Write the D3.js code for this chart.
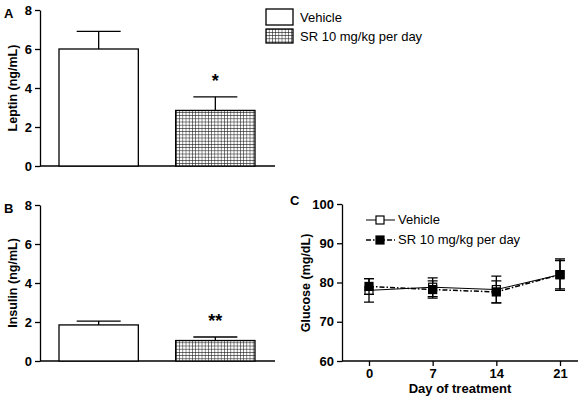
<!DOCTYPE html>
<html>
<head>
<script src="https://cdn.jsdelivr.net/npm/d3@7"></script>
<style>body{margin:0;background:#fff;font-family:Arial,"Liberation Sans",sans-serif;}</style>
</head>
<body>
<script>
var groups = ["Vehicle", "SR 10 mg/kg per day"];
var leptin = [6.0, 2.85], leptinErr = [0.9, 0.7];
var insulin = [1.85, 1.05], insulinErr = [0.2, 0.18];
var days = [0, 7, 14, 21];
var glucoseVeh = [78, 78.8, 78.2, 82], glucoseVehErr = [3, 2.4, 3.4, 4];
var glucoseSR = [79, 78.2, 77.6, 82], glucoseSRErr = [2, 2.2, 2.8, 3.6];

var svg = d3.select("body").append("svg").attr("width", 579).attr("height", 400);
var defs = svg.append("defs");
var pat = defs.append("pattern").attr("id", "grid").attr("patternUnits", "userSpaceOnUse")
    .attr("width", 3.2).attr("height", 3.2);
pat.append("rect").attr("width", 3.2).attr("height", 3.2).attr("fill", "#fff");
pat.append("path").attr("d", "M0,0H3.2M0,0V3.2").attr("stroke", "#222").attr("stroke-width", 1.1);

function fmtAxis(g) {
    g.selectAll("path,line").attr("stroke", "#000").attr("stroke-width", 1.3);
    g.selectAll("text").attr("font-size", 13).attr("font-weight", "bold").attr("fill", "#000");
}

function barPanel(top, vals, errs, star, label, ylab) {
    var y = d3.scaleLinear().domain([0, 8]).range([top + 156, top]);
    var x = d3.scaleBand().domain(groups).range([59, 255]).paddingInner(0.32).paddingOuter(0);
    svg.append("g").attr("transform", "translate(40,0)")
        .call(d3.axisLeft(y).ticks(4).tickSize(5).tickSizeOuter(0)).call(fmtAxis);
    svg.append("line").attr("x1", 40).attr("x2", 275).attr("y1", y(0)).attr("y2", y(0))
        .attr("stroke", "#000").attr("stroke-width", 1.3);
    groups.forEach(function (gr, i) {
        var cx = x(gr) + x.bandwidth() / 2;
        svg.append("line").attr("x1", cx).attr("x2", cx).attr("y1", y(vals[i])).attr("y2", y(vals[i] + errs[i])).attr("stroke", "#000").attr("stroke-width", 1.3);
        svg.append("line").attr("x1", cx - 22).attr("x2", cx + 22).attr("y1", y(vals[i] + errs[i])).attr("y2", y(vals[i] + errs[i])).attr("stroke", "#000").attr("stroke-width", 1.3);
        svg.append("rect").attr("x", x(gr)).attr("width", x.bandwidth())
            .attr("y", y(vals[i])).attr("height", y(0) - y(vals[i]))
            .attr("fill", i ? "url(#grid)" : "#fff").attr("stroke", "#000").attr("stroke-width", 1.3);
    });
    var sx = x(groups[1]) + x.bandwidth() / 2;
    svg.append("text").attr("x", sx).attr("y", y(vals[1] + errs[1]) - 10).attr("text-anchor", "middle")
        .attr("font-size", 18).attr("font-weight", "bold").text(star);
    svg.append("text").attr("x", 4).attr("y", top + 8).attr("font-size", 13).attr("font-weight", "bold").text(label);
    svg.append("text").attr("transform", "translate(17," + (top + 78) + ") rotate(-90)")
        .attr("text-anchor", "middle").attr("font-size", 12.5).attr("font-weight", "bold").text(ylab);
}
barPanel(10, leptin, leptinErr, "*", "A", "Leptin (ng/mL)");
barPanel(205, insulin, insulinErr, "**", "B", "Insulin (ng/mL)");

// legend for bars
groups.forEach(function (gr, i) {
    svg.append("rect").attr("x", 266).attr("y", 9 + i * 20).attr("width", 27).attr("height", i ? 14 : 16)
        .attr("fill", i ? "url(#grid)" : "#fff").attr("stroke", "#000").attr("stroke-width", 1.3);
    svg.append("text").attr("x", 300).attr("y", 22 + i * 19).attr("font-size", 13).text(gr);
});

// panel C
var xc = d3.scalePoint().domain(days).range([369, 560]);
var yc = d3.scaleLinear().domain([60, 100]).range([361, 204]);
svg.append("g").attr("transform", "translate(342,0)")
    .call(d3.axisLeft(yc).ticks(4).tickSize(5).tickSizeOuter(0)).call(fmtAxis);
svg.append("g").attr("transform", "translate(0,361)")
    .call(d3.axisBottom(xc).tickSize(5).tickSizeOuter(0)).call(fmtAxis)
    .select(".domain").attr("d", "M342,0H578");
svg.append("text").attr("x", 290).attr("y", 205).attr("font-size", 13).attr("font-weight", "bold").text("C");
svg.append("text").attr("transform", "translate(310,283) rotate(-90)").attr("text-anchor", "middle")
    .attr("font-size", 12.5).attr("font-weight", "bold").text("Glucose (mg/dL)");
svg.append("text").attr("x", 460).attr("y", 393).attr("text-anchor", "middle")
    .attr("font-size", 13).attr("font-weight", "bold").text("Day of treatment");

var series = [
    { v: glucoseVeh, e: glucoseVehErr, dash: null, fill: "#fff", w: 1 },
    { v: glucoseSR, e: glucoseSRErr, dash: "5,2,1.5,2", fill: "#000", w: 1.5 }
];
series.forEach(function (s, si) {
    var line = d3.line().x(function (d, i) { return xc(days[i]); }).y(function (d) { return yc(d); });
    svg.append("path").attr("d", line(s.v)).attr("fill", "none").attr("stroke", "#000")
        .attr("stroke-width", s.w).attr("stroke-dasharray", s.dash);
    s.v.forEach(function (v, i) {
        var cx = xc(days[i]);
        svg.append("path").attr("d", "M" + cx + "," + yc(v - s.e[i]) + "V" + yc(v + s.e[i]) +
            "M" + (cx - 5) + "," + yc(v - s.e[i]) + "h10M" + (cx - 5) + "," + yc(v + s.e[i]) + "h10")
            .attr("stroke", "#000").attr("stroke-width", 1.3);
        svg.append("rect").attr("x", cx - 4).attr("y", yc(v) - 4).attr("width", 8).attr("height", 8)
            .attr("fill", s.fill).attr("stroke", "#000").attr("stroke-width", 1.2);
    });
    var ly = 220 + si * 20;
    svg.append("line").attr("x1", 366).attr("x2", 395).attr("y1", ly).attr("y2", ly)
        .attr("stroke", "#000").attr("stroke-width", s.w).attr("stroke-dasharray", s.dash);
    svg.append("rect").attr("x", 376).attr("y", ly - 4).attr("width", 8).attr("height", 8)
        .attr("fill", s.fill).attr("stroke", "#000").attr("stroke-width", 1.2);
    svg.append("text").attr("x", 398).attr("y", ly + 4).attr("font-size", 13).text(groups[si]);
});
</script>
</body>
</html>
